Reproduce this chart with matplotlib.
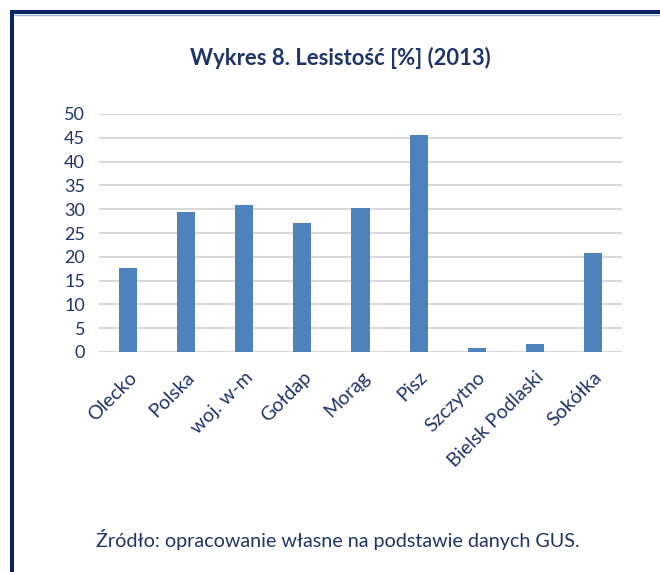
import matplotlib.pyplot as plt
from matplotlib.patches import Rectangle
from matplotlib.lines import Line2D

# dane
categories = ['Olecko', 'Polska', 'woj. w-m', 'Gołdap', 'Morąg', 'Pisz',
              'Szczytno', 'Bielsk Podlaski', 'Sokółka']
lesistosc = [17.6, 29.4, 30.9, 27.1, 30.3, 45.6, 0.8, 1.7, 20.8]
y_ticks = [0, 5, 10, 15, 20, 25, 30, 35, 40, 45, 50]

navy = '#1F3468'
bar_color = '#4F81BD'

plt.rcParams['font.family'] = ['Lato', 'DejaVu Sans']

fig = plt.figure(figsize=(6.6, 5.72), dpi=100)
W, H = 660, 572

# ramka (lewa i górna krawędź)
fig.patches.append(Rectangle((10 / W, 0), 4 / W, 1 - 10 / H, transform=fig.transFigure,
                             facecolor='#0B2463', lw=0, zorder=5))
fig.patches.append(Rectangle((10 / W, 1 - 14 / H), 1 - 10 / W, 4 / H, transform=fig.transFigure,
                             facecolor='#0B2463', lw=0, zorder=5))
fig.lines.append(Line2D([14 / W, 1], [1 - 15 / H, 1 - 15 / H], transform=fig.transFigure,
                        color='#9DB0D6', lw=1))

ax = fig.add_axes([99 / W, 1 - 352 / H, (622 - 99) / W, (352 - 114) / H])
x = range(len(categories))
ax.bar(x, lesistosc, width=0.31, color=bar_color, zorder=3)

ax.set_xlim(-0.5, len(categories) - 0.5)
ax.set_ylim(0, 50)
ax.set_yticks(y_ticks)
ax.set_xticks(list(x))
ax.set_xticklabels(categories, rotation=45, ha='right', rotation_mode='anchor')
ax.tick_params(axis='both', length=0, colors=navy)
ax.tick_params(axis='y', pad=10, labelsize=13)
ax.tick_params(axis='x', pad=12, labelsize=14)
ax.yaxis.grid(True, color='#D9D9D9', lw=1.5, zorder=0)
for s in ax.spines.values():
    s.set_visible(False)

fig.text(340 / W, 1 - 58 / H, 'Wykres 8. Lesistość [%] (2013)', ha='center', va='center',
         fontsize=15.8, fontweight='bold', color=navy)
fig.text(338 / W, 1 - 540 / H, 'Źródło: opracowanie własne na podstawie danych GUS.',
         ha='center', va='center', fontsize=14.2, color=navy)

fig.savefig('out.png', dpi=100)
